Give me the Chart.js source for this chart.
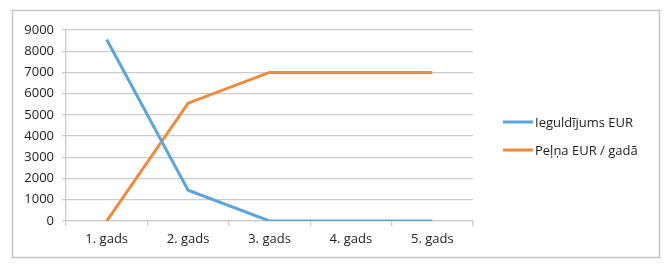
<!DOCTYPE html>
<html>
<head>
<meta charset="utf-8">
<script src="https://cdn.jsdelivr.net/npm/chart.js@4"></script>
<style>
  html, body { margin: 0; padding: 0; background: #fff; }
  #wrap { position: relative; width: 670px; height: 270px; }
</style>
</head>
<body>
<div id="wrap"><canvas id="chart"></canvas></div>
<script>
const categories = ["1. gads", "2. gads", "3. gads", "4. gads", "5. gads"];
const investment = [8550, 1450, 0, 0, 0];
const profit = [0, 5550, 7000, 7000, 7000];
const seriesNames = ["Ieguldījums EUR", "Peļņa EUR / gadā"];
const yTicks = [0, 1000, 2000, 3000, 4000, 5000, 6000, 7000, 8000, 9000];

const FONT = "'Open Sans', sans-serif";
const GRID = "#cbcbcb";

// outer frame + legend on the right, drawn by hand so it sits where the original has it
const framePlugin = {
  id: "frame",
  afterDraw(chart) {
    const ctx = chart.ctx;
    ctx.save();
    ctx.strokeStyle = "#c4c4c4";
    ctx.lineWidth = 1.5;
    ctx.strokeRect(12.5, 10.5, 647, 247);

    ctx.font = "13px " + FONT;
    ctx.textBaseline = "middle";
    chart.data.datasets.forEach((ds, i) => {
      const y = 122 + i * 28;
      ctx.strokeStyle = ds.borderColor;
      ctx.lineWidth = 3;
      ctx.beginPath();
      ctx.moveTo(503, y);
      ctx.lineTo(533, y);
      ctx.stroke();
      ctx.fillStyle = "#222";
      ctx.fillText(ds.label, 535, y + 1);
    });
    ctx.restore();
  },
};

new Chart(document.getElementById("chart"), {
  type: "line",
  data: {
    labels: categories,
    datasets: [
      { label: seriesNames[0], data: investment, borderColor: "#5ea5d7", borderWidth: 3, pointRadius: 0, tension: 0 },
      { label: seriesNames[1], data: profit, borderColor: "#ef8a3c", borderWidth: 3, pointRadius: 0, tension: 0 },
    ],
  },
  options: {
    responsive: true,
    maintainAspectRatio: false,
    animation: false,
    layout: { padding: { top: 30, right: 197, bottom: 0, left: 0 } },
    plugins: { legend: { display: false }, tooltip: { enabled: false } },
    scales: {
      x: {
        offset: true,
        grid: { offset: true, drawOnChartArea: false, drawTicks: true, tickLength: 5, color: GRID, lineWidth: 1.3 },
        border: { color: GRID, width: 1.3 },
        ticks: { font: { family: FONT, size: 13 }, color: "#222", padding: 5 },
        afterFit(s) { s.height = 49; },
      },
      y: {
        min: 0,
        max: 9000,
        afterBuildTicks(s) { s.ticks = yTicks.map(v => ({ value: v })); },
        grid: { color: GRID, lineWidth: 1.3, tickLength: 4 },
        border: { color: GRID, width: 1.3 },
        ticks: { font: { family: FONT, size: 13 }, color: "#222", padding: 8, callback: v => String(v) },
        afterFit(s) { s.width = 66; },
      },
    },
  },
  plugins: [framePlugin],
});
</script>
</body>
</html>
